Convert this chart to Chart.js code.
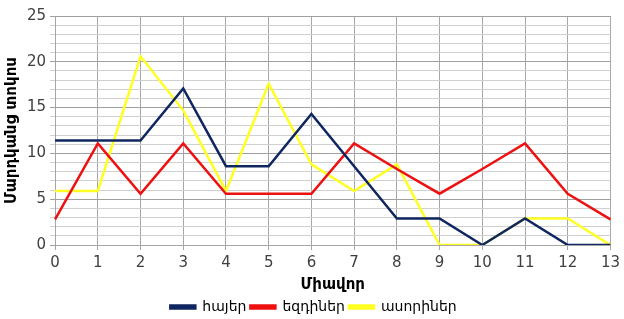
<!DOCTYPE html>
<html>
<head>
<meta charset="utf-8">
<script src="https://cdn.jsdelivr.net/npm/chart.js@4/dist/chart.umd.min.js"></script>
<style>
  html, body { margin: 0; padding: 0; background: #fff; }
  #wrap { width: 624px; height: 319px; }
</style>
</head>
<body>
<div id="wrap"><canvas id="myChart"></canvas></div>
<script>
// data
const points = ['0', '1', '2', '3', '4', '5', '6', '7', '8', '9', '10', '11', '12', '13'];
const armenians = [11.4, 11.4, 11.4, 17.1, 8.6, 8.6, 14.3, 8.6, 2.9, 2.9, 0, 2.9, 0, 0];
const yezidis = [2.8, 11.1, 5.6, 11.1, 5.6, 5.6, 5.6, 11.1, 8.3, 5.6, 8.3, 11.1, 5.6, 2.8];
const assyrians = [5.9, 5.9, 20.6, 14.7, 5.9, 17.6, 8.8, 5.9, 8.8, 0, 0, 2.9, 2.9, 0];

const ctx = document.getElementById('myChart').getContext('2d');

Chart.defaults.font.family = 'DejaVu Sans';
Chart.defaults.color = '#404040';

const myChart = new Chart(ctx, {
  type: 'line',
  data: {
    labels: points,
    datasets: [
      { label: 'հայեր', data: armenians, borderColor: '#0f2660', backgroundColor: '#0f2660' },
      { label: 'եզդիներ', data: yezidis, borderColor: '#ee1111', backgroundColor: '#ee1111' },
      { label: 'ասորիներ', data: assyrians, borderColor: '#ffff22', backgroundColor: '#ffff22' },
    ],
  },
  options: {
    responsive: true,
    maintainAspectRatio: false,
    animation: false,
    elements: {
      line: { borderWidth: 2.5, tension: 0 },
      point: { radius: 0 },
    },
    layout: { padding: { left: 3, right: 0, top: 16, bottom: -5 } },
    plugins: {
      legend: {
        position: 'bottom',
        labels: {
          boxWidth: 25,
          boxHeight: 3,
          padding: 4,
          color: '#000',
          font: { size: 14 },
        },
      },
      tooltip: { enabled: false },
    },
    scales: {
      x: {
        offset: false,
        grid: { color: '#a6a6a6', drawTicks: true, tickLength: 5 },
        border: { color: '#a6a6a6' },
        ticks: { font: { size: 15 }, color: '#404040', padding: 4, maxRotation: 0 },
        title: {
          display: true,
          text: 'Միավոր',
          color: '#000',
          font: { size: 15, weight: 'bold' },
          padding: { top: 0, bottom: 2 },
        },
      },
      y: {
        min: 0,
        max: 25,
        grid: {
          drawTicks: true,
          tickLength: 5,
          color: (c) => (c.tick && c.tick.value % 5 === 0 ? '#a0a0a0' : '#d0d0d0'),
        },
        border: { color: '#a6a6a6' },
        ticks: {
          stepSize: 1,
          autoSkip: false,
          font: { size: 15 },
          color: '#404040',
          padding: 4,
          callback: (v) => (v % 5 === 0 ? v : ''),
        },
        title: {
          display: true,
          text: 'Մարդկանց տոկոս',
          color: '#000',
          font: { size: 15, weight: 'bold' },
          padding: { top: 0, bottom: 2 },
        },
      },
    },
  },
});
</script>
</body>
</html>
